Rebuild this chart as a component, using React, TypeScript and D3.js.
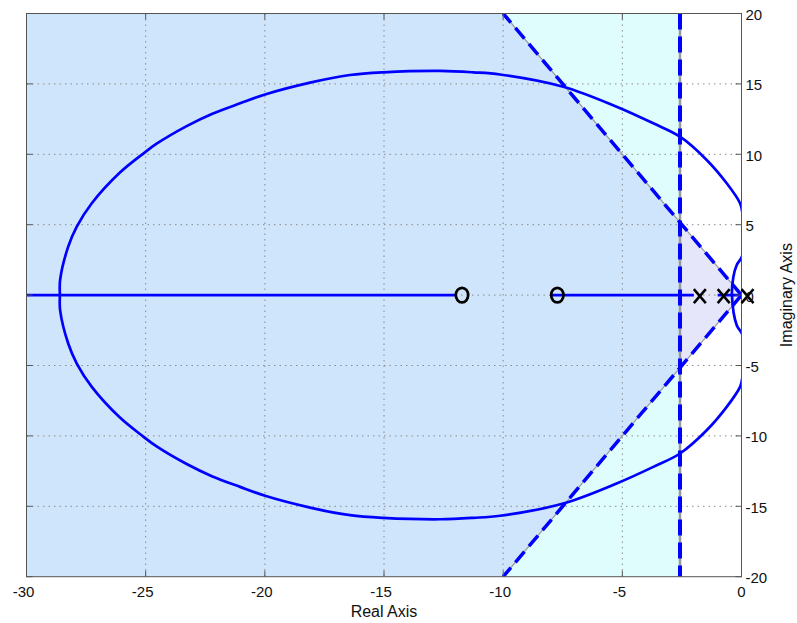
import React from "react";
import * as d3 from "d3";

// ---- data ----
const xTicks = [-30, -25, -20, -15, -10, -5, 0];
const yTicks = [-20, -15, -10, -5, 0, 5, 10, 15, 20];
const poles = [0, -1, -2];
const zeros = [-8, -12];
// real-axis locus segments [from, to]
const realAxisSegments: [number, number][] = [
  [-30, -12],
  [-8, -2],
  [-1, 0],
];
// upper complex branch, from breakaway point to break-in point
const upperBranchX = [
  -0.4, -0.34, -0.2, 0.03, 0.11, 0.04, -0.06, -0.62, -1.46, -2.58, -3.7, -5.24, -7.48,
  -10.13, -11.25, -12.65, -15.03, -16.43, -18.1, -19.99, -21.04, -22.2, -23.28, -24.54,
  -25.1, -26.08, -27.26, -27.89, -28.25, -28.59, -28.6,
];
const upperBranchY = [
  0, 1.31, 2.14, 2.78, 4.27, 5.83, 6.52, 7.94, 9.6, 11.25, 12.2, 13.38, 14.8,
  15.67, 15.82, 15.92, 15.82, 15.63, 15.09, 14.25, 13.62, 12.88, 12.0, 10.75,
  10.05, 8.7, 6.52, 4.86, 3.44, 1.07, 0,
];
// design constraints
const settlingBoundary = -2.58; // vertical boundary on the real axis
const dampingCorner = [-10, 20]; // damping line passes through the origin and this point

// ---- layout ----
const W = 797;
const H = 623;
const L = 26.5;
const R = 741.5;
const T = 13.5;
const B = 576.7;

export default function App() {
  const x = d3.scaleLinear().domain([-30, 0]).range([L, R]);
  const y = d3.scaleLinear().domain([-20, 20]).range([B, T]);

  const line = d3
    .line<[number, number]>()
    .x((d) => x(d[0]))
    .y((d) => y(d[1]));

  const upper: [number, number][] = upperBranchX.map((v, i) => [v, upperBranchY[i]]);
  const lower: [number, number][] = upper.map(([a, b]) => [a, -b]);
  const loop: [number, number][] = [
    ...upper.slice(0, upper.length - 1),
    ...lower.slice(1).reverse().slice(0, lower.length - 2),
  ];
  const loopPath = d3
    .line<[number, number]>()
    .x((d) => x(d[0]))
    .y((d) => y(d[1]))
    .curve(d3.curveCatmullRomClosed.alpha(0.5))(loop) as string;

  const [dx, dy] = dampingCorner;
  const cone: [number, number][] = [
    [0, 0],
    [dx, dy],
    [-30, 20],
    [-30, -20],
    [dx, -dy],
  ];
  const conePath = line(cone) + "Z";
  const upperDamp = line([[0, 0], [dx, dy]]) as string;
  const lowerDamp = line([[0, 0], [dx, -dy]]) as string;

  const font = "'Liberation Sans', Arial, Helvetica, sans-serif";
  const blue = "#0000ff";
  const markerOffset = 6;

  return (
    <svg
      width={W}
      height={H}
      style={{ position: "absolute", left: 0, top: 0, background: "#fff" }}
      fontFamily={font}
    >
      <defs>
        <clipPath id="plot">
          <rect x={L} y={T} width={R - L} height={B - T} />
        </clipPath>
        <clipPath id="leftOfBoundary">
          <rect x={L} y={T} width={x(settlingBoundary) - L} height={B - T} />
        </clipPath>
      </defs>

      <rect x={L} y={T} width={R - L} height={B - T} fill="#ffffff" />
      <g clipPath="url(#plot)">
        <rect x={L} y={T} width={x(settlingBoundary) - L} height={B - T} fill="#e0fdfd" />
        <path d={conePath} fill="#e6e6fa" />
        <path d={conePath} fill="#cfe5fc" clipPath="url(#leftOfBoundary)" />
      </g>

      {/* grid */}
      <g stroke="#8a8a8a" strokeWidth={1} strokeDasharray="1.5 4">
        {xTicks.slice(1, -1).map((t) => (
          <line key={"gx" + t} x1={x(t)} x2={x(t)} y1={T} y2={B} />
        ))}
        {yTicks.slice(1, -1).map((t) => (
          <line key={"gy" + t} x1={L} x2={R} y1={y(t)} y2={y(t)} />
        ))}
      </g>

      {/* constraint boundaries */}
      <g clipPath="url(#plot)" fill="none">
        <path d={upperDamp} stroke="#999" strokeWidth={1.2} />
        <path d={lowerDamp} stroke="#999" strokeWidth={1.2} />
        <line
          x1={x(settlingBoundary)}
          x2={x(settlingBoundary)}
          y1={T}
          y2={B}
          stroke="#999"
          strokeWidth={2.5}
        />
        <path d={upperDamp} stroke={blue} strokeWidth={3.5} strokeDasharray="14 7" />
        <path d={lowerDamp} stroke={blue} strokeWidth={3.5} strokeDasharray="14 7" />
        <line
          x1={x(settlingBoundary)}
          x2={x(settlingBoundary)}
          y1={T}
          y2={B}
          stroke={blue}
          strokeWidth={4}
          strokeDasharray="16 7"
        />
      </g>

      {/* root locus */}
      <g clipPath="url(#plot)" fill="none" stroke={blue} strokeWidth={2.7}>
        {realAxisSegments.map(([a, b], i) => (
          <line key={"ra" + i} x1={x(a)} x2={x(b)} y1={y(0)} y2={y(0)} />
        ))}
        <path d={loopPath} />
      </g>

      {/* border */}
      <rect x={L} y={T} width={R - L} height={B - T} fill="none" stroke="#555" strokeWidth={1} />

      {/* ticks */}
      <g stroke="#555" strokeWidth={1}>
        {xTicks.map((t) => (
          <g key={"tx" + t}>
            <line x1={x(t)} x2={x(t)} y1={B} y2={B - 6} />
            <line x1={x(t)} x2={x(t)} y1={T} y2={T + 6} />
          </g>
        ))}
        {yTicks.map((t) => (
          <g key={"ty" + t}>
            <line x1={R} x2={R - 6} y1={y(t)} y2={y(t)} />
            <line x1={L} x2={L + 6} y1={y(t)} y2={y(t)} />
          </g>
        ))}
      </g>

      {/* markers */}
      <g stroke="#000" strokeWidth={2.5} fill="none">
        {poles.map((p) => {
          const cx = x(p) + markerOffset;
          const cy = y(0) + 1;
          return (
            <g key={"p" + p}>
              <line x1={cx - 6} y1={cy - 7} x2={cx + 6} y2={cy + 7} />
              <line x1={cx - 6} y1={cy + 7} x2={cx + 6} y2={cy - 7} />
            </g>
          );
        })}
        {zeros.map((z) => (
          <ellipse key={"z" + z} cx={x(z) + markerOffset + 0.5} cy={y(0)} rx={6.2} ry={7.3} strokeWidth={2.7} />
        ))}
      </g>

      {/* tick labels */}
      <g fontSize={15} fill="#111">
        {xTicks.map((t) => (
          <text key={"lx" + t} x={x(t) - (t < 0 ? 3 : 0)} y={597} textAnchor="middle">
            {t}
          </text>
        ))}
        {yTicks.map((t) => (
          <text key={"ly" + t} x={745.5} y={y(t) + 1} dominantBaseline="central">
            {t}
          </text>
        ))}
      </g>

      {/* axis labels */}
      <text x={(L + R) / 2} y={617} textAnchor="middle" fontSize={16} fill="#111">
        Real Axis
      </text>
      <text
        x={787}
        y={(T + B) / 2}
        textAnchor="middle"
        dominantBaseline="central"
        fontSize={16}
        fill="#111"
        transform={`rotate(-90, 787, ${(T + B) / 2})`}
      >
        Imaginary Axis
      </text>
    </svg>
  );
}
